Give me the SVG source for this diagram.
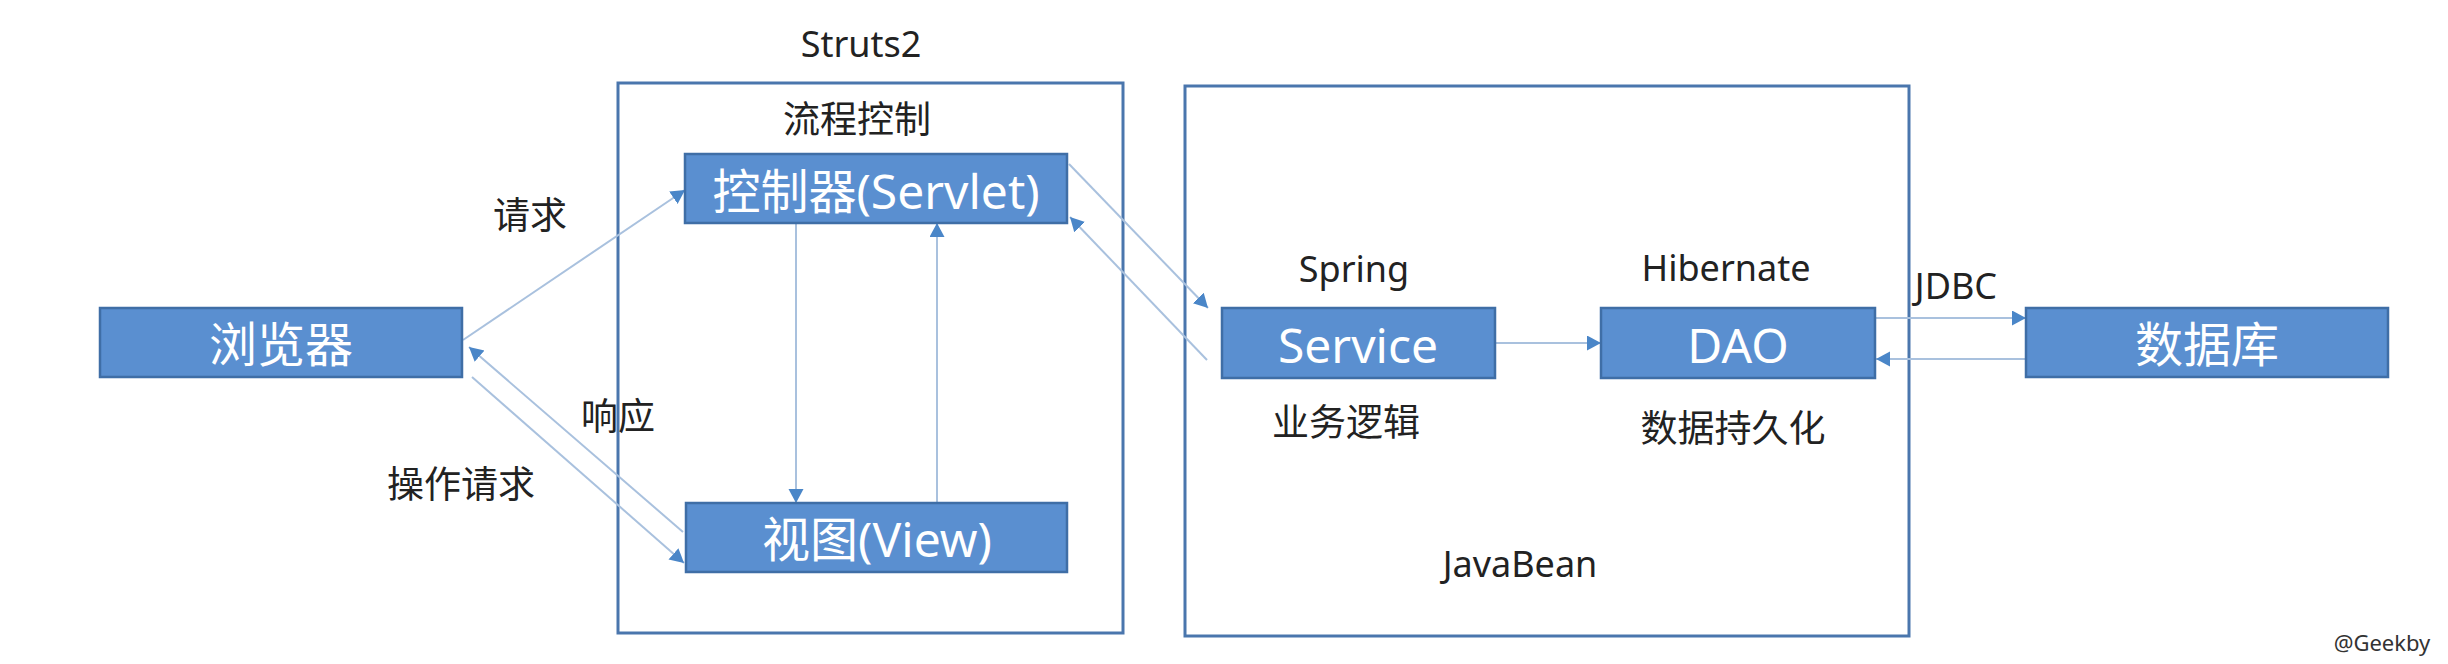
<svg xmlns="http://www.w3.org/2000/svg" width="2448" height="664" viewBox="0 0 2448 664">
<style>
.bg{fill:#ffffff}
.frame{fill:none;stroke:#4a76ad;stroke-width:3}
.box{fill:#5a8fd0;stroke:#3f6ea6;stroke-width:2.5}
.bt{fill:#ffffff;font-family:"Noto Sans","Noto Sans CJK SC",sans-serif;font-size:48px;text-anchor:middle;dominant-baseline:central}
.lb{fill:#222222;font-family:"Noto Sans","Noto Sans CJK SC",sans-serif;font-size:36px;text-anchor:middle;dominant-baseline:central}
.lc{fill:#222222;font-family:"Noto Sans CJK SC",sans-serif;font-size:37px;text-anchor:middle;dominant-baseline:central}
.wm{fill:#333333;font-family:"Noto Sans",sans-serif;font-size:22px;text-anchor:middle;dominant-baseline:central}
.ln{fill:none;stroke:#a9c1de;stroke-width:2;marker-end:url(#ah)}
</style>
<defs>
<marker id="ah" markerUnits="userSpaceOnUse" markerWidth="15" markerHeight="16" refX="14" refY="7.5" orient="auto">
<path d="M0,0 L14,7.5 L0,15 z" fill="#4a86c8"/>
</marker>
</defs>
<rect class="bg" x="0" y="0" width="2448" height="664"/>
<g id="struts2-frame">
<rect class="frame" x="618" y="83" width="505" height="550"/>
<text class="lb" x="861" y="43">Struts2</text>
<text class="lc" x="857" y="117">流程控制</text>
</g>
<g id="javabean-frame">
<rect class="frame" x="1185" y="86" width="724" height="550"/>
<text class="lb" x="1520" y="563">JavaBean</text>
</g>
<g id="connectors">
<line class="ln" x1="463" y1="340" x2="685" y2="190"/>
<line class="ln" x1="683" y1="532" x2="469" y2="347"/>
<line class="ln" x1="472" y1="377" x2="684" y2="563"/>
<line class="ln" x1="796" y1="224" x2="796" y2="503"/>
<line class="ln" x1="937" y1="503" x2="937" y2="223"/>
<line class="ln" x1="1069" y1="164" x2="1208" y2="308"/>
<line class="ln" x1="1207" y1="360" x2="1070" y2="217"/>
<line class="ln" x1="1496" y1="343" x2="1601" y2="343"/>
<line class="ln" x1="1876" y1="318" x2="2026" y2="318"/>
<line class="ln" x1="2026" y1="359" x2="1876" y2="359"/>
<text class="lc" x="530" y="213">请求</text>
<text class="lc" x="618" y="414">响应</text>
<text class="lc" x="461" y="482">操作请求</text>
<text class="lb" x="1956" y="285">JDBC</text>
</g>
<g id="browser">
<rect class="box" x="100" y="308" width="362" height="69"/>
<text class="bt" x="281" y="343">浏览器</text>
</g>
<g id="controller">
<rect class="box" x="685" y="154" width="382" height="69"/>
<text class="bt" x="876" y="190">控制器(Servlet)</text>
</g>
<g id="view">
<rect class="box" x="686" y="503" width="381" height="69"/>
<text class="bt" x="877" y="538">视图(View)</text>
</g>
<g id="service">
<text class="lb" x="1354" y="268">Spring</text>
<rect class="box" x="1222" y="308" width="273" height="70"/>
<text class="bt" x="1358" y="344">Service</text>
<text class="lc" x="1346" y="420">业务逻辑</text>
</g>
<g id="dao">
<text class="lb" x="1726" y="267">Hibernate</text>
<rect class="box" x="1601" y="308" width="274" height="70"/>
<text class="bt" x="1738" y="344">DAO</text>
<text class="lc" x="1733" y="426">数据持久化</text>
</g>
<g id="database">
<rect class="box" x="2026" y="308" width="362" height="69"/>
<text class="bt" x="2207" y="343">数据库</text>
</g>
<text class="wm" x="2382" y="642">@Geekby</text>
</svg>
